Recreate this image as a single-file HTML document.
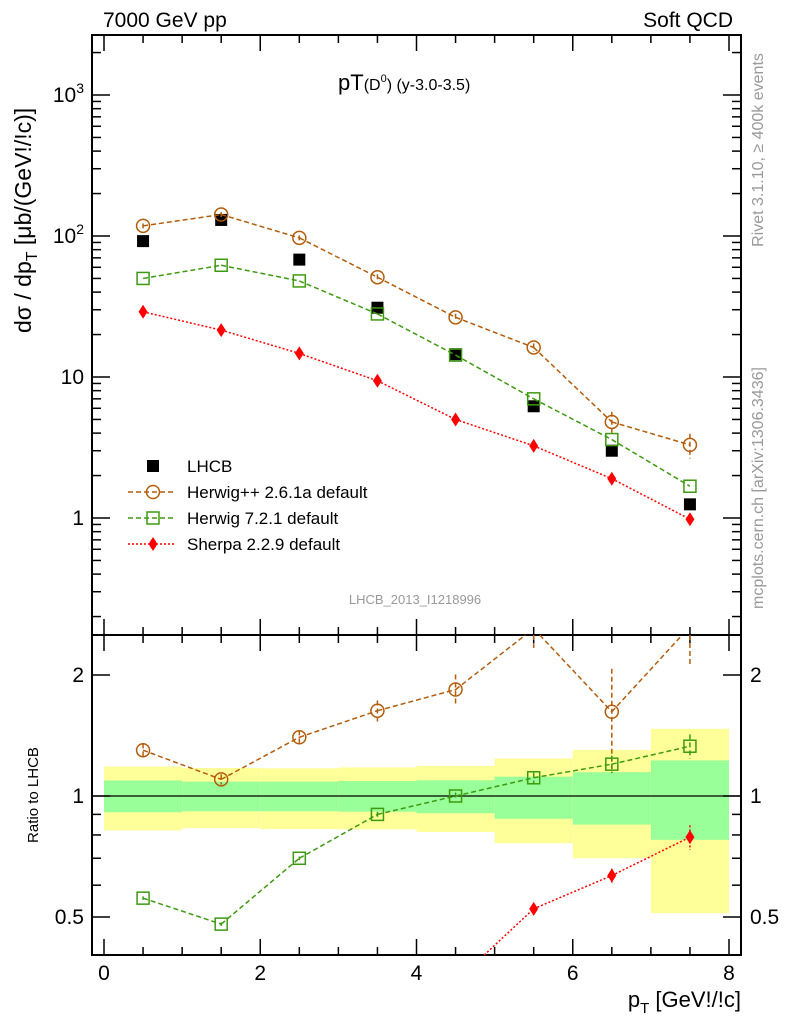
<!DOCTYPE html>
<html><head><meta charset="utf-8"><style>
html,body{margin:0;padding:0;background:#fff;overflow:hidden;width:786px;height:1024px;}
svg{display:block;}
svg text{font-family:"Liberation Sans",sans-serif;}
</style></head><body>
<svg id="c" width="786" height="1024" xmlns="http://www.w3.org/2000/svg">
<rect width="786" height="1024" fill="#fff"/>
<g id="g"></g>
</svg>
<script>
const xCenters=[0.5,1.5,2.5,3.5,4.5,5.5,6.5,7.5];
const binEdges=[0,1,2,3,4,5,6,7,8];
const lhcb=[92,130,68,31,14.5,6.2,3.0,1.25];
const herwigpp=[118,142,97,51,26.5,16.2,4.8,3.3];
const herwig7=[50,62,48,28,14.3,7.0,3.6,1.68];
const sherpa=[29,21.5,14.7,9.4,5.0,3.25,1.9,0.98];
const herwigppErr=[0.04,0.04,0.04,0.05,0.06,0.07,0.18,0.2];
const ratioHpp=[1.30,1.10,1.40,1.63,1.84,2.61,1.62,2.64];
const ratioHppErr=[0.04,0.03,0.04,0.06,0.09,0.12,0.28,0.2];
const ratioH7=[0.557,0.48,0.70,0.90,1.0,1.11,1.20,1.33];
const ratioH7Err=[0.01,0.01,0.01,0.015,0.02,0.03,0.05,0.07];
const ratioSherpa=[0.315,0.165,0.216,0.30,0.345,0.524,0.634,0.79];
const ratioSherpaErr=[0.01,0.01,0.01,0.01,0.01,0.03,0.04,0.07];
const bandYellowHi=[1.184,1.174,1.172,1.178,1.188,1.240,1.302,1.469];
const bandYellowLo=[0.821,0.832,0.827,0.826,0.814,0.763,0.700,0.511];
const bandGreenHi=[1.093,1.086,1.086,1.090,1.094,1.117,1.146,1.226];
const bandGreenLo=[0.911,0.916,0.916,0.914,0.906,0.878,0.849,0.778];
const mainTicks=[1,10,100,1000];
const mainTickLabels=["1","10","10²","10³"];
const ratioTicks=[0.5,1,2];
const ratioTickLabels=["0.5","1","2"];
const xTicks=[0,2,4,6,8];
const xTickLabels=["0","2","4","6","8"];

const L=92,R=741,T=35,MB=635,RB=955;
const X=v=>104+v*78.125;
const Y=v=>518-Math.log10(v)*141;
const YR=v=>796-Math.log2(v)*121;
const NS="http://www.w3.org/2000/svg";
const g=document.getElementById('g');
function el(tag,attrs,parent){const e=document.createElementNS(NS,tag);for(const k in attrs)e.setAttribute(k,attrs[k]);(parent||g).appendChild(e);return e;}
function txt(s,attrs,parent){const e=el('text',attrs,parent);e.textContent=s;return e;}

const bands=el('g',{});


const cy=y=>Math.max(MB,Math.min(RB,y));
for(let i=0;i<8;i++){
  const x0=X(binEdges[i]),x1=X(binEdges[i+1]);
  const y=el('rect',{x:x0,y:cy(YR(bandYellowHi[i])),width:x1-x0,height:cy(YR(bandYellowLo[i]))-cy(YR(bandYellowHi[i])),fill:'#ffff99'},bands);
  
  
  const gr=el('rect',{x:x0,y:cy(YR(bandGreenHi[i])),width:x1-x0,height:cy(YR(bandGreenLo[i]))-cy(YR(bandGreenHi[i])),fill:'#99ff99'},bands);
  
  
}
el('line',{x1:L,x2:R,y1:YR(1),y2:YR(1),stroke:'#000','stroke-width':1.3});

el('rect',{x:L,y:T,width:R-L,height:MB-T,fill:'none',stroke:'#000','stroke-width':2});
el('rect',{x:L,y:MB,width:R-L,height:RB-MB,fill:'none',stroke:'#000','stroke-width':2});

for(let v=0;v<=8.001;v+=0.5){
  const maj=Math.abs(v-Math.round(v/2)*2)<1e-6, len=maj?16:8;
  for(const [y0,dir] of [[T,1],[MB,-1],[MB,1],[RB,-1]]){
    el('line',{x1:X(v),x2:X(v),y1:y0,y2:y0+dir*len,stroke:'#000','stroke-width':1.5});
  }
}
xTicks.forEach((v,i)=>{const t=txt(xTickLabels[i],{x:X(v),y:980,'font-size':21,'text-anchor':'middle'});
});
for(let d=-1;d<=3;d++){for(let m=1;m<=9;m++){const v=m*Math.pow(10,d);const y=Y(v);if(y<T||y>MB)continue;
 const len=m==1?18:9;
 el('line',{x1:L,x2:L+len,y1:y,y2:y,stroke:'#000','stroke-width':1.5});
 el('line',{x1:R,x2:R-len,y1:y,y2:y,stroke:'#000','stroke-width':1.5});}}
mainTicks.forEach((v,i)=>{const t=txt('',{x:84,y:Y(v)+7,'font-size':21,'text-anchor':'end'});
 const lab=mainTickLabels[i];
 if(lab.includes('²')||lab.includes('³')){t.textContent='10';const s=el('tspan',{dy:-9,'font-size':14},t);s.textContent=lab.includes('²')?'2':'3';}
 else t.textContent=lab;
 });
for(const v of [0.4,0.5,0.6,0.7,0.8,0.9,1,2]){const y=YR(v);if(y<MB||y>RB)continue;
 const len=(v==0.5||v==1||v==2)?18:9;
 el('line',{x1:L,x2:L+len,y1:y,y2:y,stroke:'#000','stroke-width':1.5});
 el('line',{x1:R,x2:R-len,y1:y,y2:y,stroke:'#000','stroke-width':1.5});}
ratioTicks.forEach((v,i)=>{
 const a=txt(ratioTickLabels[i],{x:84,y:YR(v)+7,'font-size':21,'text-anchor':'end'});
 
 const b=txt(ratioTickLabels[i],{x:750,y:YR(v)+7,'font-size':21});
 });

function marker(kind,x,y,parent,color){
 if(kind=='sq') return el('rect',{x:x-6,y:y-6,width:12,height:12,fill:'#000'},parent);
 if(kind=='circ') return el('circle',{cx:x,cy:y,r:6.5,fill:'none',stroke:color,'stroke-width':1.5},parent);
 if(kind=='osq') return el('rect',{x:x-6,y:y-6,width:12,height:12,fill:'none',stroke:color,'stroke-width':1.5},parent);
 if(kind=='dia') return el('path',{d:`M${x},${y-7}L${x+4.5},${y}L${x},${y+7}L${x-4.5},${y}Z`,fill:color},parent);
}
// clip a segment vertically to [y0,y1]
function clipSeg(ax,ay,bx,by,y0,y1){
 let t0=0,t1=1;const dy=by-ay;
 const lim=(p,q)=>{if(p==0)return q>=0; const r=q/p; if(p<0){if(r>t1)return false; if(r>t0)t0=r;} else {if(r<t0)return false; if(r<t1)t1=r;} return true;};
 if(!lim(-dy,ay-y0))return null; if(!lim(dy,y1-ay))return null;
 return [ax+(bx-ax)*t0,ay+dy*t0,ax+(bx-ax)*t1,ay+dy*t1];
}
function series(vals,errs,fy,kind,color,dash,y0,y1,name){
 const grp=el('g',{});
 
 
 if(dash){for(let i=0;i<vals.length-1;i++){
   const s=clipSeg(X(xCenters[i]),fy(vals[i]),X(xCenters[i+1]),fy(vals[i+1]),y0,y1);
   if(s) el('line',{x1:s[0],y1:s[1],x2:s[2],y2:s[3],stroke:color,'stroke-width':1.5,'stroke-dasharray':dash},grp);
 }}
 vals.forEach((v,i)=>{
  const x=X(xCenters[i]);
  if(errs){const e=errs[i];const a=Math.max(y0,Math.min(y1,fy(v*(1+e)))),b=Math.max(y0,Math.min(y1,fy(v*(1-e))));
    if(b>a) el('line',{x1:x,x2:x,y1:a,y2:b,stroke:color,'stroke-width':1.5,'stroke-dasharray':dash||''},grp);}
  const py=fy(v); if(py<y0||py>y1) return;
  const m=marker(kind,x,py,grp,color);
  
  
 });
}
const cH='#b35c0b',cG='#3d9a0f',cS='#ff0000';
series(lhcb,null,Y,'sq','#000',null,T,MB,'lhcb-data');
series(herwigpp,herwigppErr,Y,'circ',cH,'5,3',T,MB,'herwigpp-series');
series(herwig7,null,Y,'osq',cG,'5,3',T,MB,'herwig7-series');
series(sherpa,null,Y,'dia',cS,'2,2',T,MB,'sherpa-series');
series(ratioHpp,ratioHppErr,YR,'circ',cH,'5,3',MB,RB,'ratio-herwigpp');
series(ratioH7,ratioH7Err,YR,'osq',cG,'5,3',MB,RB,'ratio-herwig7');
series(ratioSherpa,ratioSherpaErr,YR,'dia',cS,'2,2',MB,RB,'ratio-sherpa');

const leg=el('g',{});


const entries=[['LHCB','sq','#000',null],['Herwig++ 2.6.1a default','circ',cH,'5,3'],['Herwig 7.2.1 default','osq',cG,'5,3'],['Sherpa 2.2.9 default','dia',cS,'2,2']];
entries.forEach((e,i)=>{const y=466+i*26;
 const eg=el('g',{},leg);
 
 
 if(e[3])el('line',{x1:128,x2:176,y1:y,y2:y,stroke:e[2],'stroke-width':1.5,'stroke-dasharray':e[3]},eg);
 marker(e[1],153,y,eg,e[2]);
 txt(e[0],{x:187,y:y+6,'font-size':17},eg);});

const labels=[
 ['7000 GeV pp',{x:103,y:27,'font-size':21},'energy-label'],
 ['Soft QCD',{x:733,y:27,'font-size':21,'text-anchor':'end'},'process-label'],
 ['LHCB_2013_I1218996',{x:415,y:604,'font-size':13,fill:'#999','text-anchor':'middle'},'analysis-id'],
 ['Ratio to LHCB',{x:0,y:0,'font-size':15,transform:'translate(38,795) rotate(-90)','text-anchor':'middle'},'ratio-axis-title'],
 ['Rivet 3.1.10, ≥ 400k events',{x:0,y:0,'font-size':16,fill:'#999',transform:'translate(763,150) rotate(-90)','text-anchor':'middle'},'rivet-label'],
 ['mcplots.cern.ch [arXiv:1306.3436]',{x:0,y:0,'font-size':16,fill:'#999',transform:'translate(763,488) rotate(-90)','text-anchor':'middle'},'mcplots-label']
];
labels.forEach(l=>{const t=txt(l[0],l[1]);});
const tt=txt('pT',{x:338,y:90,'font-size':22});

const s1=el('tspan',{'font-size':16},tt);s1.textContent='(D';
const s2=el('tspan',{'font-size':11,dy:-8},tt);s2.textContent='0';
const s3=el('tspan',{'font-size':16,dy:8},tt);s3.textContent=') (y-3.0-3.5)';
const xt=txt('p',{x:741,y:1007,'font-size':22,'text-anchor':'end'});

const xs=el('tspan',{'font-size':15,dy:6},xt);xs.textContent='T';
const xs2=el('tspan',{dy:-6},xt);xs2.textContent=' [GeV!/!c]';
const yt=txt('dσ / dp',{x:0,y:0,'font-size':23,transform:'translate(31,333) rotate(-90)','text-anchor':'start'});

const ys=el('tspan',{'font-size':16,dy:6},yt);ys.textContent='T';
const ys2=el('tspan',{dy:-6},yt);ys2.textContent=' [μb/(GeV!/!c)]';
</script>
</body></html>
